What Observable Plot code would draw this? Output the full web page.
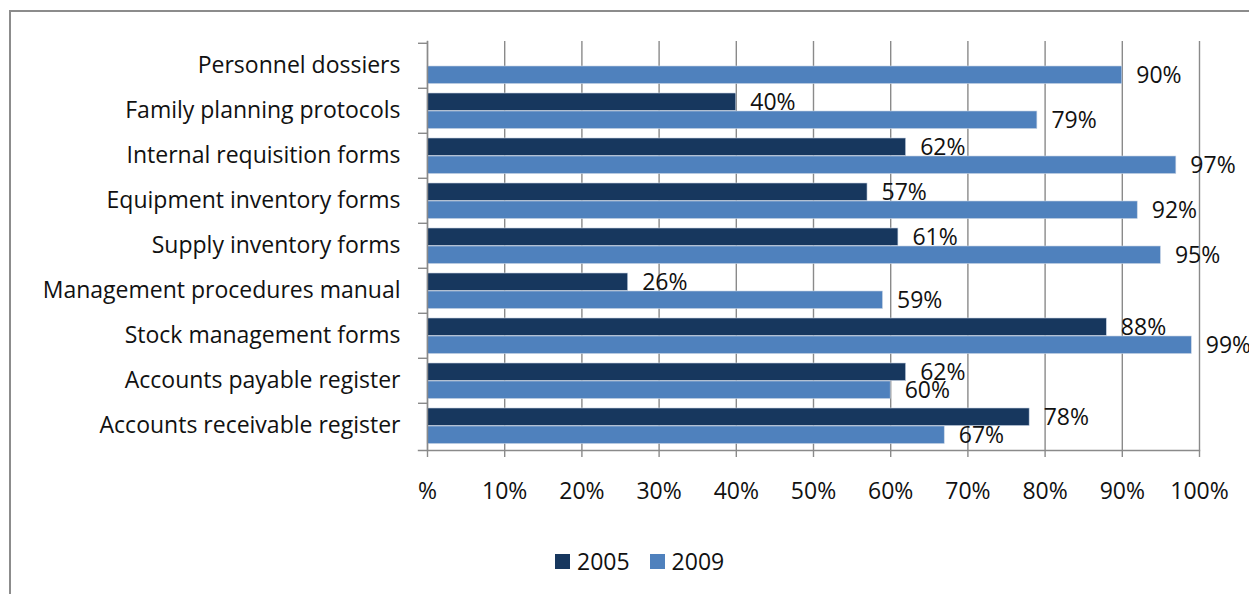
<!DOCTYPE html>
<html>
<head>
<meta charset="utf-8">
<script src="https://cdn.jsdelivr.net/npm/d3@7"></script>
<script src="https://cdn.jsdelivr.net/npm/@observablehq/plot@0.6"></script>
<style>
  body { margin: 0; background: #fff; font-family: "Open Sans", sans-serif; }
  #frame { position: absolute; left: 9px; top: 10px; width: 1245px; height: 590px;
           border-left: 2px solid #8c8c8c; border-top: 2px solid #8c8c8c; }
  #chart { position: absolute; left: 0; top: 0; }
  #legend { position: absolute; left: 555px; top: 545px; display: flex; align-items: center;
            font-size: 23px; color: #111; }
  .sw { display: inline-block; width: 15px; height: 15px; margin-right: 7px; }
  .item { display: flex; align-items: center; margin-right: 20px; }
</style>
</head>
<body>
<div id="frame"></div>
<div id="chart"></div>
<div id="legend"></div>
<script>
const categories = [
  "Personnel dossiers",
  "Family planning protocols",
  "Internal requisition forms",
  "Equipment inventory forms",
  "Supply inventory forms",
  "Management procedures manual",
  "Stock management forms",
  "Accounts payable register",
  "Accounts receivable register"
];
const values2005 = [null, 40, 62, 57, 61, 26, 88, 62, 78];
const values2009 = [90, 79, 97, 92, 95, 59, 99, 60, 67];
const years = ["2005", "2009"];
const colors = ["#17375E", "#4F81BD"];
const xTicks = [0, 10, 20, 30, 40, 50, 60, 70, 80, 90, 100];

const d2005 = categories.map((c, i) => ({category: c, value: values2005[i]})).filter(d => d.value != null);
const d2009 = categories.map((c, i) => ({category: c, value: values2009[i]}));

const grid = "#8a8a8a";
const band = 409 / 9;

const chart = Plot.plot({
  width: 1249,
  height: 520,
  marginLeft: 427,
  marginRight: 50,
  marginTop: 41,
  marginBottom: 70,
  style: {fontFamily: "'Open Sans', sans-serif", fontSize: "23px", color: "#111", background: "transparent"},
  x: {domain: [0, 100], ticks: xTicks, label: null},
  y: {domain: categories, padding: 0, label: null},
  marks: [
    Plot.gridX(xTicks, {stroke: grid, strokeOpacity: 1, strokeWidth: 1.4}),
    Plot.barX(d2005, {x: "value", y: "category", fill: colors[0], insetTop: 5, insetBottom: band - 23,
      stroke: "#c8d4e4", strokeWidth: 0.6}),
    Plot.barX(d2009, {x: "value", y: "category", fill: colors[1], insetTop: 23, insetBottom: band - 41,
      stroke: "#c8d4e4", strokeWidth: 0.6}),
    Plot.text(d2005, {x: "value", y: "category", text: d => d.value + "%", textAnchor: "start",
      dx: 14, dy: -8, fill: "#111"}),
    Plot.text(d2009, {x: "value", y: "category", text: d => d.value + "%", textAnchor: "start",
      dx: 14, dy: 10, fill: "#111"}),
    Plot.frame({anchor: "left", stroke: grid, strokeWidth: 1.4}),
    Plot.frame({anchor: "bottom", stroke: grid, strokeWidth: 1.4, insetLeft: -9}),
    Plot.axisY({tickSize: 9, tickFormat: () => "", dy: -band / 2, stroke: grid, strokeWidth: 1.4, label: null}),
    Plot.axisY({tickSize: 0, tickPadding: 27, fill: "#111", label: null}),
    Plot.axisX(xTicks, {tickSize: 7, tickPadding: 25, stroke: grid, strokeWidth: 1.4, label: null,
      tickFormat: d => d === 0 ? "%" : d + "%", fill: "#111"})
  ]
});
document.getElementById("chart").appendChild(chart);

const legend = document.getElementById("legend");
years.forEach((y, i) => {
  const item = document.createElement("div");
  item.className = "item";
  item.innerHTML = `<span class="sw" style="background:${colors[i]}"></span><span>${y}</span>`;
  legend.appendChild(item);
});
</script>
</body>
</html>
